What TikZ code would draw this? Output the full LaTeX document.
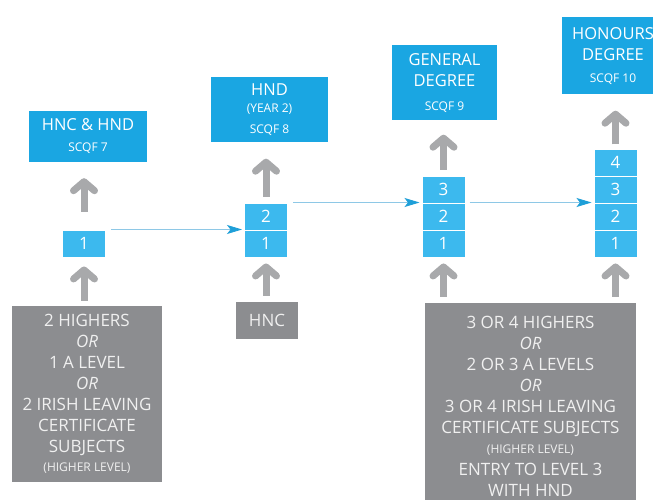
\documentclass[tikz,border=0pt]{standalone}
\usepackage{fontspec}
\setmainfont{Open Sans}
\usetikzlibrary{arrows.meta}
\definecolor{qualblue}{HTML}{1AA6E2}
\definecolor{cellblue}{HTML}{3CB9EE}
\definecolor{entrygrey}{HTML}{8C8D90}
\definecolor{upgrey}{HTML}{A8A9AB}
\definecolor{linkblue}{HTML}{8EC8E6}
\definecolor{tipblue}{HTML}{1E9FD8}
\newcommand{\qtxt}{\fontsize{16.5}{21}\selectfont}
\newcommand{\etxt}{\fontsize{17}{21}\selectfont}
\newcommand{\stxt}{\fontsize{12}{14}\selectfont}
\begin{document}
\begin{tikzpicture}[x=1pt, y=-1pt,
  qual/.style={fill=qualblue, text=white, align=center, inner sep=0pt, font=\qtxt},
  cell/.style={fill=cellblue, draw=white, line width=1pt, text=white, minimum width=43pt, minimum height=27pt, inner sep=0pt, font=\etxt},
  entry/.style={fill=entrygrey, text=white!94!black, align=center, inner sep=0pt, font=\etxt},
  up/.style={draw=upgrey, line width=7pt, -{Straight Barb[round, length=9pt, width=21pt]}, shorten <=6pt, shorten >=6pt},
  link/.style={draw=linkblue, line width=0.8pt, -{Stealth[length=15pt, width=9pt, inset=3.5pt, color=tipblue, fill=tipblue]}}]
  % Fix the frame
  \clip (0,0) rectangle (653,500);
  \fill[white] (0,0) rectangle (653,500);

  % Qualifications
  \node[qual, minimum width=118pt, minimum height=51pt] (q7) at (88,136.5)
    {HNC \& HND\\\stxt SCQF 7};
  \node[qual, minimum width=117pt, minimum height=65pt] (q8) at (269.5,110)
    {HND\\[-4pt]\stxt (YEAR 2)\\\stxt SCQF 8};
  \node[qual, minimum width=105pt, minimum height=75pt] (q9) at (444.5,83)
    {GENERAL\\DEGREE\\[3pt]\stxt SCQF 9};
  \node[qual, minimum width=102pt, minimum height=77pt] (q10) at (613,56)
    {HONOURS\\DEGREE\\[1pt]\stxt SCQF 10};

  % Years of study
  \node[cell] (s1c1) at (84,243.5) {1};
  \node[cell] (s2c1) at (266,243.5) {1};
  \node[cell] (s2c2) at (266,216.5) {2};
  \node[cell] (s3c1) at (443.5,243.5) {1};
  \node[cell] (s3c2) at (443.5,216.5) {2};
  \node[cell] (s3c3) at (443.5,189.5) {3};
  \node[cell] (s4c1) at (615.5,243.5) {1};
  \node[cell] (s4c2) at (615.5,216.5) {2};
  \node[cell] (s4c3) at (615.5,189.5) {3};
  \node[cell] (s4c4) at (615.5,162.5) {4};

  % Entry requirements
  \node[entry, minimum width=150pt, minimum height=176pt] (e1) at (87,394)
    {2 HIGHERS\\\itshape OR\\1 A LEVEL\\\itshape OR\\2 IRISH LEAVING\\CERTIFICATE\\SUBJECTS\\[-2pt]\stxt (HIGHER LEVEL)};
  \node[entry, minimum width=62pt, minimum height=37pt] (e2) at (267,320.5) {HNC};
  \node[entry, minimum width=211pt, minimum height=206pt] (e3) at (530.5,406)
    {3 OR 4 HIGHERS\\\itshape OR\\2 OR 3 A LEVELS\\\itshape OR\\3 OR 4 IRISH LEAVING\\CERTIFICATE SUBJECTS\\[-1pt]\stxt (HIGHER LEVEL)\\[1pt]ENTRY TO LEVEL 3\\WITH HND};

  % Grey arrows
  \draw[up, shorten <=18pt, shorten >=16pt] (s1c1.north) -- (s1c1.north |- q7.south);
  \draw[up, shorten >=16pt] (s2c2.north) -- (s2c2.north |- q8.south);
  \draw[up, shorten >=14pt] (s3c3.north) -- (s3c3.north |- q9.south);
  \draw[up, shorten <=4pt, shorten >=16pt] (s4c4.north) -- (s4c4.north |- q10.south);
  \draw[up, shorten <=5pt, shorten >=9pt] (e1.north -| s1c1) -- (s1c1.south);
  \draw[up] (e2.north -| s2c1) -- (s2c1.south);
  \draw[up] (e3.north -| s3c1) -- (s3c1.south);
  \draw[up] (e3.north -| s4c1) -- (s4c1.south);

  % Links between routes
  \draw[link] ([xshift=5pt]s1c1.north east) -- ([xshift=-2pt]s2c1.north west);
  \draw[link] ([xshift=5pt]s2c2.north east) -- ([xshift=-2pt]s3c2.north west);
  \draw[link] ([xshift=4pt]s3c2.north east) -- ([xshift=-2pt]s4c2.north west);
\end{tikzpicture}
\end{document}
